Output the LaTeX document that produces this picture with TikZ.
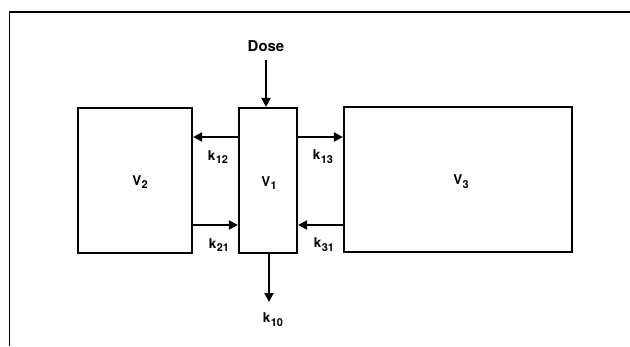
\documentclass[tikz,border=0pt]{standalone}
\usepackage{fontspec}
\setmainfont{TeX Gyre Heros}
\usetikzlibrary{arrows.meta}
\newcommand\ksub[1]{\kern0.4bp\raisebox{-3.8bp}{\fontsize{11}{11}\selectfont\bfseries #1}}
\begin{document}
\begin{tikzpicture}[x=1bp,y=-1bp,
  comp/.style={draw,line width=2.2bp,minimum height=145bp,inner sep=0pt},
  lbl/.style={font=\fontsize{13.5}{13.5}\selectfont\bfseries,inner sep=0pt},
  flow/.style={line width=2bp,-{Triangle[length=9bp,width=9bp]}},
  frameline/.style={line width=1.8bp}]
\useasboundingbox (0,0) rectangle (630,346);
% open frame (top and left edges)
\draw[frameline] (630,12) -- (9.5,12) -- (9.5,346);
% compartments
\node[comp,minimum width=114bp] (V2) at (135,180.5) {};
\node[comp,minimum width=58bp]  (V1) at (268,180.5) {};
\node[comp,minimum width=228bp] (V3) at (458,179.5) {};
% compartment labels
\node[lbl] (tV2) at (140,182) {V\ksub{2}};
\node[lbl] (tV1) at (269,183) {V\ksub{1}};
\node[lbl] (tV3) at (461,182) {V\ksub{3}};
% rate labels
\node[lbl,font=\fontsize{15}{15}\selectfont\bfseries] (dose) at (266,46) {Dose};
\node[lbl] (k12) at (218,157) {k\ksub{12}};
\node[lbl] (k13) at (323,157) {k\ksub{13}};
\node[lbl] (k21) at (219,245) {k\ksub{21}};
\node[lbl] (k31) at (324,245) {k\ksub{31}};
\node[lbl] (k10) at (273,320) {k\ksub{10}};
% helper coordinates
\coordinate (yup) at (0,137);
\coordinate (ylo) at (0,225);
\coordinate (dosestart) at (266,60);
\coordinate (k10end) at (269,302);
% connectors
\draw[flow] (dosestart) -- (dosestart |- V1.north);
\draw[flow] (V1.west |- yup) -- (V2.east |- yup);
\draw[flow] (V1.east |- yup) -- (V3.west |- yup);
\draw[flow] (V2.east |- ylo) -- (V1.west |- ylo);
\draw[flow] (V3.west |- ylo) -- (V1.east |- ylo);
\draw[flow] (k10end |- V1.south) -- (k10end);
\end{tikzpicture}
\end{document}
